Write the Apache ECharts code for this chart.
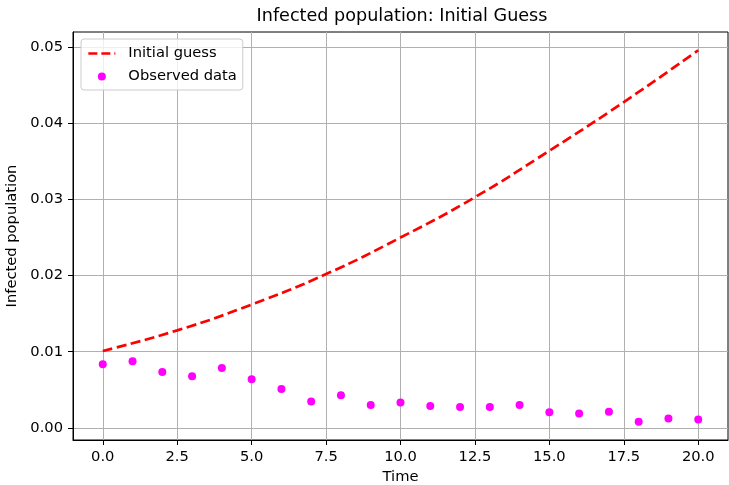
<!DOCTYPE html>
<html>
<head>
<meta charset="utf-8">
<script src="https://cdn.jsdelivr.net/npm/echarts@6/dist/echarts.min.js"></script>
<style>html,body{margin:0;padding:0;background:#fff}#c{width:729px;height:485px}</style>
</head>
<body>
<div id="c"></div>
<script>
// Data
const guessTimes = [0, 2.5, 5, 7.5, 10, 12.5, 15, 17.5, 20];
const guessValues = [0.0101, 0.0128, 0.0162, 0.0202, 0.0250, 0.0303, 0.0364, 0.0428, 0.0496];
const obsTimes = [0, 1, 2, 3, 4, 5, 6, 7, 8, 9, 10, 11, 12, 13, 14, 15, 16, 17, 18, 19, 20];
const obsValues = [0.00835, 0.00874, 0.00734, 0.00677, 0.00786, 0.00638, 0.00511, 0.00345, 0.00428, 0.00301,
                   0.00332, 0.00288, 0.00275, 0.00275, 0.00301, 0.00205, 0.00188, 0.00210, 0.00079, 0.00122, 0.00109];
const xTicks = [0, 2.5, 5, 7.5, 10, 12.5, 15, 17.5, 20];
const yTicks = [0, 0.01, 0.02, 0.03, 0.04, 0.05];

const FONT = 'DejaVu Sans';
const FS = 14.7;
const chart = echarts.init(document.getElementById('c'));
chart.setOption({
  animation: false,
  backgroundColor: '#fff',
  textStyle: { fontFamily: FONT },
  title: {
    text: 'Infected population: Initial Guess',
    left: 397, textAlign: 'center', top: 2,
    textStyle: { fontFamily: FONT, fontSize: 17.6, fontWeight: 'normal', color: '#000' }
  },
  grid: { left: 73, right: 1, top: 32, bottom: 45, containLabel: false, outerBoundsMode: 'none',
          show: true, borderColor: '#000', borderWidth: 1, backgroundColor: 'transparent' },
  legend: {
    orient: 'vertical', left: 81, top: 39,
    padding: [7, 6, 6, 6], itemGap: 8, itemWidth: 27, itemHeight: 8,
    borderColor: '#cccccc', borderWidth: 1, borderRadius: 3, backgroundColor: 'rgba(255,255,255,0.8)',
    textStyle: { fontFamily: FONT, fontSize: FS, color: '#000', padding: [0, 0, 0, 8] },
    data: [
      { name: 'Initial guess', itemStyle: { opacity: 0 }, lineStyle: { color: '#ff0000', width: 2.7, type: [9, 4] } },
      { name: 'Observed data' }
    ]
  },
  xAxis: {
    type: 'value', min: -1, max: 21,
    name: 'Time', nameLocation: 'middle', nameGap: 30, nameMoveOverlap: false,
    nameTextStyle: { fontFamily: FONT, fontSize: FS, color: '#000' },
    axisLine: { show: true, onZero: false, lineStyle: { color: '#000', width: 1 } },
    axisTick: { show: true, length: 5, customValues: xTicks, lineStyle: { color: '#000' } },
    axisLabel: { customValues: xTicks, fontFamily: FONT, fontSize: FS, color: '#000', margin: 10, formatter: v => v.toFixed(1) },
    splitLine: { show: true, lineStyle: { color: '#b0b0b0', width: 1 } }
  },
  yAxis: {
    type: 'value', min: -0.0016, max: 0.052,
    name: 'Infected population', nameLocation: 'middle', nameGap: 53, nameMoveOverlap: false,
    nameTextStyle: { fontFamily: FONT, fontSize: FS, color: '#000' },
    axisLine: { show: true, onZero: false, lineStyle: { color: '#000', width: 1 } },
    axisTick: { show: true, length: 5, customValues: yTicks, lineStyle: { color: '#000' } },
    axisLabel: { customValues: yTicks, fontFamily: FONT, fontSize: FS, color: '#000', margin: 10, formatter: v => v.toFixed(2) },
    splitLine: { show: true, lineStyle: { color: '#b0b0b0', width: 1 } }
  },
  series: [
    {
      name: 'Initial guess', type: 'line', smooth: true, symbol: 'none',
      data: guessTimes.map((t, i) => [t, guessValues[i]]),
      lineStyle: { color: '#ff0000', width: 2.7, type: [10, 4.5] },
      itemStyle: { color: '#ff0000' }, z: 3
    },
    {
      name: 'Observed data', type: 'scatter', symbol: 'circle', symbolSize: 8,
      data: obsTimes.map((t, i) => [t, obsValues[i]]),
      itemStyle: { color: '#ff00ff', opacity: 1 }, z: 4
    }
  ]
});
</script>
</body>
</html>
